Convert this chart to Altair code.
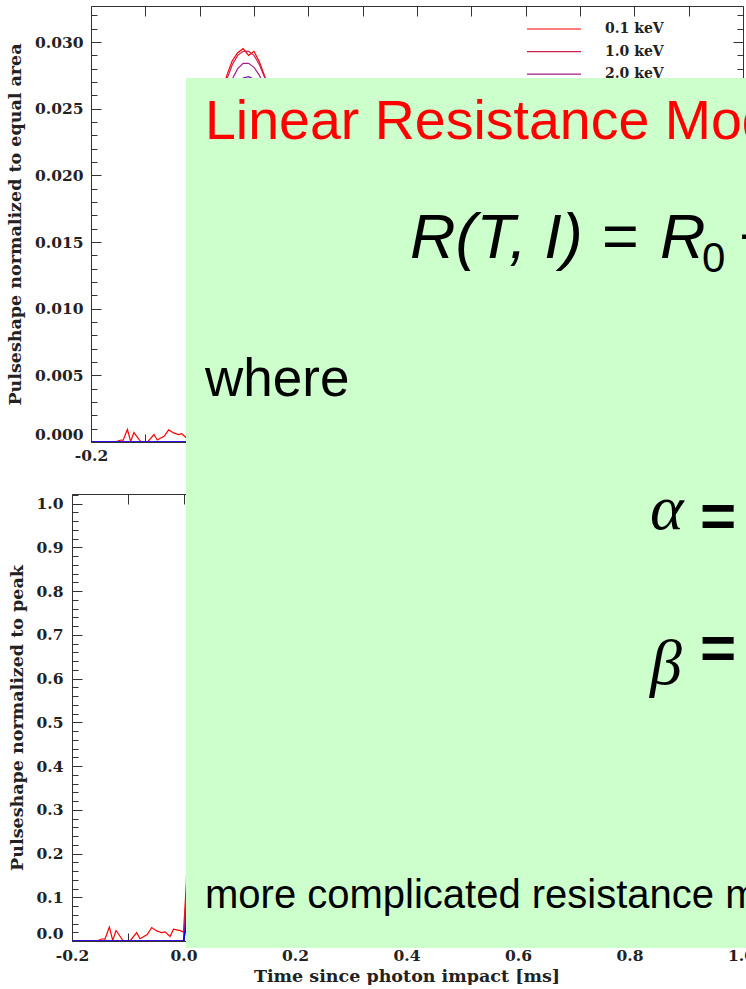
import altair as alt
import pandas as pd

# ---------------------------------------------------------------- data
energies = ["0.1 keV", "1.0 keV", "2.0 keV", "4.0 keV", "6.0 keV", "8.0 keV"]
line_colors = ["#ff0000", "#cc2050", "#a02088", "#7010b0", "#4008d8", "#0000ff"]

# pre-trigger samples of the 0.1 keV pulse (noisy baseline), area-normalised
pre_t = [-0.200, -0.156, -0.145, -0.141, -0.133, -0.127, -0.121, -0.108, -0.096,
         -0.084, -0.078, -0.065, -0.057, -0.048, -0.039, -0.033, -0.024, -0.018, -0.006]
pre_01 = [0.0, 0.0, 0.00015, 0.00012, 0.00094, 0.00004, 0.00071, 0.0, 0.0,
          0.00056, 0.00015, 0.00044, 0.00091, 0.00068, 0.00056, 0.00062, 0.00030,
          0.00080, 0.00070]
# the higher energies sit on a flat baseline before the trigger
pre_flat_t = [-0.200, -0.006]
pre_flat = [0.0, 0.0]

# pulse samples after the photon impact [ms]
pulse_t = [0.000, 0.005, 0.010, 0.020, 0.030, 0.040, 0.050, 0.060, 0.070, 0.080,
           0.090, 0.100, 0.110, 0.120, 0.140, 0.170, 0.200, 0.250, 0.300, 0.400,
           0.500, 0.600, 0.700, 0.800, 0.900, 1.000]
pulse_01 = [0.0006, 0.0038, 0.0110, 0.0185, 0.0232, 0.0259, 0.0275, 0.0286, 0.0292,
            0.0295, 0.0290, 0.0293, 0.0285, 0.0274, 0.0246, 0.0200, 0.0160, 0.0108,
            0.0072, 0.0031, 0.0013, 0.0006, 0.0003, 0.0001, 0.0001, 0.0000]
pulse_1 = [0.0000, 0.0030, 0.0105, 0.0182, 0.0229, 0.0256, 0.0272, 0.0283, 0.0290,
           0.0293, 0.0293, 0.0290, 0.0283, 0.0273, 0.0247, 0.0202, 0.0162, 0.0110,
           0.0074, 0.0032, 0.0014, 0.0006, 0.0003, 0.0001, 0.0000, 0.0000]
pulse_2 = [0.0000, 0.0022, 0.0098, 0.0172, 0.0217, 0.0244, 0.0260, 0.0272, 0.0280,
           0.0284, 0.0284, 0.0281, 0.0275, 0.0266, 0.0243, 0.0203, 0.0166, 0.0116,
           0.0080, 0.0036, 0.0016, 0.0007, 0.0003, 0.0001, 0.0000, 0.0000]
pulse_4 = [0.0000, 0.0015, 0.0090, 0.0162, 0.0205, 0.0232, 0.0249, 0.0261, 0.0269,
           0.0273, 0.0274, 0.0272, 0.0267, 0.0259, 0.0240, 0.0205, 0.0171, 0.0123,
           0.0087, 0.0041, 0.0019, 0.0009, 0.0004, 0.0002, 0.0001, 0.0000]
pulse_6 = [0.0000, 0.0010, 0.0082, 0.0152, 0.0193, 0.0219, 0.0236, 0.0248, 0.0256,
           0.0261, 0.0262, 0.0261, 0.0257, 0.0251, 0.0235, 0.0206, 0.0176, 0.0130,
           0.0094, 0.0047, 0.0023, 0.0011, 0.0005, 0.0002, 0.0001, 0.0000]
pulse_8 = [0.0000, 0.0008, 0.0075, 0.0142, 0.0181, 0.0206, 0.0223, 0.0235, 0.0243,
           0.0248, 0.0250, 0.0250, 0.0247, 0.0242, 0.0229, 0.0205, 0.0179, 0.0137,
           0.0101, 0.0053, 0.0027, 0.0013, 0.0006, 0.0003, 0.0001, 0.0000]

pulses = [pulse_01, pulse_1, pulse_2, pulse_4, pulse_6, pulse_8]

# axis ticks
x_ticks = [-0.2, -0.1, 0.0, 0.1, 0.2, 0.3, 0.4, 0.5, 0.6, 0.7, 0.8, 0.9, 1.0]
x_labels_top = [-0.2, 0.0, 0.2, 0.4, 0.6, 0.8]
x_labels_bottom = [-0.2, 0.0, 0.2, 0.4, 0.6, 0.8, 1.0]
y_major_area = [0.0, 0.005, 0.010, 0.015, 0.020, 0.025, 0.030]
y_minor_area = [round(i * 0.001, 3) for i in range(33)]
y_major_peak = [0.0, 0.1, 0.2, 0.3, 0.4, 0.5, 0.6, 0.7, 0.8, 0.9, 1.0]
y_minor_peak = [round(i * 0.02, 2) for i in range(52)]

rows = []
for energy, pulse in zip(energies, pulses):
    if energy == "0.1 keV":
        head_t, head_v = pre_t, pre_01
    else:
        head_t, head_v = pre_flat_t, pre_flat
    for t, v in zip(head_t + pulse_t, head_v + pulse):
        rows.append({"energy": energy, "t": t, "value": v})
curve_df = pd.DataFrame(rows)
legend_df = pd.DataFrame({"energy": energies, "slot": list(range(len(energies)))})
one = pd.DataFrame({"k": [0]})

# ---------------------------------------------------------------- styles
AX_FONT = "DejaVu Serif"
AX_COLOR = "#333333"
TXT_COLOR = "#222222"
BOX_FILL = "#ccffcc"
color_scale = alt.Scale(domain=energies, range=line_colors)
x_label_expr = ("datum.value < 0 ? '-' + format(-datum.value, '.1f')"
                " : format(datum.value, '.1f')")


def label_axis(**kw):
    return alt.Axis(labelFont=AX_FONT, labelFontSize=15.5, labelFontWeight="bold",
                    labelColor=TXT_COLOR, labelFlush=False, domainColor=AX_COLOR,
                    domainWidth=1, ticks=False, grid=False, titleFont=AX_FONT,
                    titleFontSize=17.5, titleFontWeight="bold", titleColor=TXT_COLOR,
                    **kw)


def tick_axis(**kw):
    return alt.Axis(labels=False, grid=False, title=None, tickColor=AX_COLOR,
                    domainColor=AX_COLOR, domainWidth=1, tickWidth=1, **kw)


def text_layer(x, y, s, size, color="#000000", font="Liberation Sans",
               style="normal", weight="normal"):
    return alt.Chart(one).mark_text(
        text=s, align="left", baseline="alphabetic", font=font, fontSize=size,
        fontStyle=style, fontWeight=weight, color=color, clip=True,
    ).encode(x=alt.value(x), y=alt.value(y))


GROUP_W = 674  # both panels share the same group origin and run to the right edge


def panel(y_field, y_max, x0, x1, H, y_major, y_minor, y_fmt, y_title,
          x_label_vals, x_title, x_label_pad, y_label_pad, box, texts, with_legend):
    xs = alt.Scale(domain=[-0.2, 1.0], range=[x0, x1], nice=False, zero=False)
    ys = alt.Scale(domain=[0, y_max], nice=False, zero=False)
    src = alt.Chart(curve_df)
    if y_field == "norm":
        src = src.transform_joinaggregate(
            peak="max(value)", groupby=["energy"]
        ).transform_calculate(norm="datum.value / datum.peak")

    def X(axis):
        return alt.X("t:Q", scale=xs, axis=axis)

    def Y(axis):
        return alt.Y(f"{y_field}:Q", scale=ys, axis=axis)

    zero_lift = {"condition": {"test": "datum.value == 0", "value": -8}, "value": 0}
    curves = src.mark_line(strokeWidth=1.2, clip=True).encode(
        x=X(label_axis(values=x_label_vals, labelExpr=x_label_expr,
                       labelPadding=x_label_pad, titlePadding=4,
                       title=x_title if x_title else None)),
        y=Y(label_axis(values=y_major, format=y_fmt, labelPadding=y_label_pad,
                       offset=-x0, title=y_title, titlePadding=10,
                       labelOffset=zero_lift)),
        color=alt.Color("energy:N", scale=color_scale, legend=None),
    )
    # frame: top/right edges and inward ticks on all four sides
    edge1 = src.mark_line(opacity=0).encode(
        x=X(tick_axis(orient="bottom", offset=-H, values=x_ticks, tickSize=10, domain=True)),
        y=Y(tick_axis(orient="left", offset=-x1, values=y_major, tickSize=10, domain=True)),
    )
    edge2 = src.mark_line(opacity=0).encode(
        x=X(tick_axis(orient="top", offset=-H, values=x_ticks, tickSize=8, domain=False)),
        y=Y(tick_axis(orient="right", offset=-(GROUP_W - x0), values=y_major,
                      tickSize=10, domain=False)),
    )
    edge3 = src.mark_line(opacity=0).encode(
        x=X(None),
        y=Y(tick_axis(orient="right", offset=-(GROUP_W - x0), values=y_minor,
                      tickSize=6, domain=False)),
    )
    edge4 = src.mark_line(opacity=0).encode(
        x=X(None),
        y=Y(tick_axis(orient="left", offset=-x1, values=y_minor, tickSize=6, domain=False)),
    )
    layers = [curves, edge1, edge2, edge3, edge4]

    if with_legend:
        leg = alt.Chart(legend_df).transform_calculate(ly="23 + 22.6 * datum.slot")
        layers.append(leg.mark_rule(strokeWidth=1.2).encode(
            x=alt.value(455), x2=alt.value(509),
            y=alt.Y("ly:Q", scale=None, axis=None),
            color=alt.Color("energy:N", scale=color_scale, legend=None),
        ))
        layers.append(leg.mark_text(
            align="left", baseline="middle", font=AX_FONT, fontSize=14,
            fontWeight="bold", color=TXT_COLOR,
        ).encode(
            x=alt.value(533), y=alt.Y("ly:Q", scale=None, axis=None),
            text="energy:N",
        ))

    layers.append(alt.Chart(one).mark_rect(color=BOX_FILL).encode(
        x=alt.value(box[0]), x2=alt.value(box[1]),
        y=alt.value(box[2]), y2=alt.value(box[3]),
    ))
    layers.extend(texts)

    return alt.layer(*layers).resolve_scale(y="independent").resolve_axis(
        x="independent", y="independent"
    ).properties(width=GROUP_W, height=H)


H_T = 436
H_B = 447

top_texts = [
    text_layer(133, 133, "Linear Resistance Model", 55.5, color="#ff0000"),
    text_layer(338, 252, "R(T, I)", 63, style="italic"),
    text_layer(530, 252, "=", 63),
    text_layer(588, 252, "R", 63, style="italic"),
    text_layer(630, 266, "0", 42),
    text_layer(667, 252, "+", 63),
    text_layer(133, 390, "where", 53),
]
bottom_texts = [
    text_layer(578, 35, "\u03b1", 64, font="Liberation Serif", style="italic"),
    text_layer(628, 43, "=", 62, weight="bold"),
    text_layer(578, 190, "\u03b2", 64, font="Liberation Serif", style="italic"),
    text_layer(628, 175, "=", 62, weight="bold"),
    text_layer(133, 414, "more complicated resistance models", 40),
]

top = panel("value", 0.0327, 19, 671, H_T, y_major_area, y_minor_area, ".3f",
            "Pulseshape normalized to equal area", x_labels_top, None, 6, 8,
            (114, GROUP_W, 72, 487), top_texts, True)
bottom = panel("norm", 1.022, 0, 669, H_B, y_major_peak, y_minor_peak, ".1f",
               "Pulseshape normalized to peak", x_labels_bottom,
               "Time since photon impact [ms]", 7, 9,
               (114, GROUP_W, -1, 454), bottom_texts, False)

chart = alt.vconcat(top, bottom, spacing=0).properties(
    padding={"left": 6, "top": 5, "right": -9, "bottom": 0},
    background="white",
).configure_view(stroke=None)

chart.save("out.html", embed_options={"renderer": "svg", "actions": False})
